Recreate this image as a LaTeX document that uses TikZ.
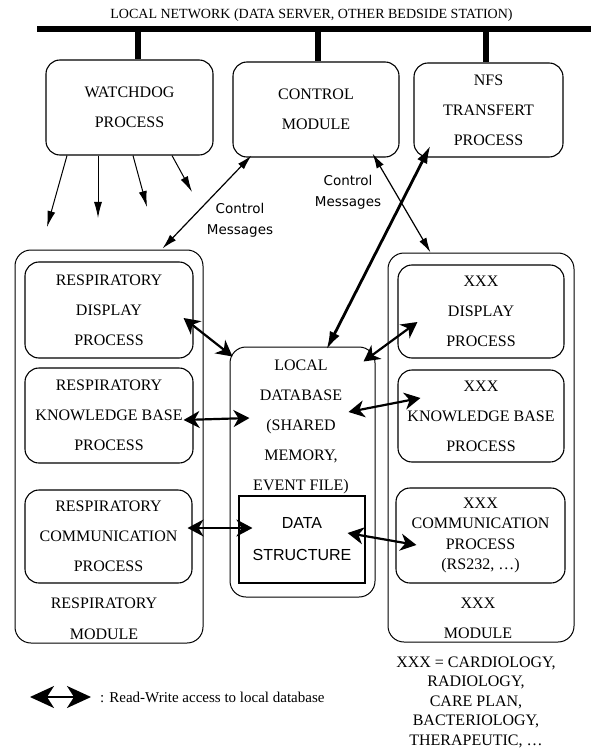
\documentclass[tikz,border=0pt]{standalone}
\usepackage{fontspec}
\setmainfont{Liberation Serif}
\newfontfamily\msgfont{DejaVu Sans}
\newfontfamily\structfont{Liberation Sans}
\usetikzlibrary{arrows.meta}

\begin{document}
\begin{tikzpicture}[
  x=1pt, y=-1pt,
  proc/.style={draw, rounded corners=14pt, line width=1.1pt, align=center, inner sep=0pt, font=\fontsize{16}{30}\selectfont},
  module/.style={draw, rounded corners=16pt, line width=1pt, inner sep=0pt},
  label/.style={align=center, inner sep=0pt, font=\fontsize{16}{31}\selectfont},
  msg/.style={align=center, inner sep=0pt, font=\msgfont\fontsize{13.5}{21}\selectfont},
  bus/.style={line width=5.5pt},
  wd/.style={-{Latex[length=16pt,width=8pt]}, line width=1pt},
  ctrlmsg/.style={{Latex[length=15pt,width=8pt]}-{Latex[length=15pt,width=8pt]}, line width=1.2pt},
  nfsflow/.style={{Latex[length=18pt,width=11pt]}-{Latex[length=18pt,width=11pt]}, line width=2.8pt},
  rw/.style={{Stealth[length=16pt,width=17pt,inset=5pt]}-{Stealth[length=16pt,width=17pt,inset=5pt]}, line width=2.2pt},
  rwkey/.style={{Stealth[length=24pt,width=22pt,inset=7pt]}-{Stealth[length=24pt,width=22pt,inset=7pt]}, line width=2.4pt}
]
\useasboundingbox (0,0) rectangle (591,751);

% Network bus
\node[inner sep=0pt, font=\fontsize{14}{16}\selectfont] (net) at (311.5,15) {LOCAL NETWORK (DATA SERVER, OTHER BEDSIDE STATION)};
\coordinate (busL) at (37,29);
\coordinate (busR) at (591,29);
\draw[bus] (busL) -- (busR);

% Top processes
\node[proc, minimum width=167pt, minimum height=95pt] (wdog) at (129.5,107.5) {WATCHDOG\\PROCESS};
\node[proc, minimum width=166pt, minimum height=95pt] (ctrl) at (316,109.5) {CONTROL\\MODULE};
\node[proc, minimum width=149pt, minimum height=94pt] (nfs) at (488.5,110) {NFS\\TRANSFERT\\PROCESS};

\coordinate (tapW) at (138,29);
\coordinate (tapC) at (318,29);
\coordinate (tapN) at (486,29);
\draw[bus] (tapW) -- (tapW |- wdog.north);
\draw[bus] (tapC) -- (tapC |- ctrl.north);
\draw[bus] (tapN) -- (tapN |- nfs.north);

% Respiratory module
\node[module, minimum width=188pt, minimum height=393pt] (resp) at (109,446.5) {};
\node[proc, minimum width=168pt, minimum height=96pt] (rdisp) at (109,310) {RESPIRATORY\\DISPLAY\\PROCESS};
\node[proc, minimum width=168pt, minimum height=95pt] (rkb) at (109,415.5) {RESPIRATORY\\KNOWLEDGE BASE\\PROCESS};
\node[proc, minimum width=167pt, minimum height=93pt] (rcomm) at (108.5,536.5) {RESPIRATORY\\COMMUNICATION\\PROCESS};
\node[label] (resplbl) at (104,619) {RESPIRATORY\\MODULE};

% Local database
\node[module, minimum width=145pt, minimum height=250pt] (db) at (302.5,472) {};
\node[label, font=\fontsize{16}{30}\selectfont] (dbtxt) at (301,427) {LOCAL\\DATABASE\\(SHARED\\MEMORY,\\EVENT FILE)};
\node[draw, line width=1.1pt, minimum width=126pt, minimum height=87pt, align=center, inner sep=0pt, font=\structfont\fontsize{16}{32}\selectfont] (ds) at (302,539.5) {DATA\\STRUCTURE};

% XXX module
\node[module, minimum width=186pt, minimum height=389pt] (xxx) at (481,447.5) {};
\node[proc, minimum width=166pt, minimum height=93pt] (xdisp) at (481,311.5) {XXX\\DISPLAY\\PROCESS};
\node[proc, minimum width=166pt, minimum height=92pt] (xkb) at (481,416) {XXX\\KNOWLEDGE BASE\\PROCESS};
\node[proc, minimum width=169pt, minimum height=95pt, font=\fontsize{16}{20.5}\selectfont] (xcomm) at (480.5,535.5) {XXX\\COMMUNICATION\\PROCESS\\(RS232, \ldots)};
\node[label, font=\fontsize{16}{30}\selectfont] (xxxlbl) at (478,618) {XXX\\MODULE};

% Watchdog outputs
\coordinate (wd1) at (47,227);
\coordinate (wd2) at (98,218);
\coordinate (wd3) at (147,207);
\coordinate (wd4) at (192,192);
\draw[wd] ([xshift=-62.5pt]wdog.south) -- (wd1);
\draw[wd] ([xshift=-31.5pt]wdog.south) -- (wd2);
\draw[wd] ([xshift=3.5pt]wdog.south) -- (wd3);
\draw[wd] ([xshift=42.5pt]wdog.south) -- (wd4);

% Control messages
\draw[ctrlmsg] ([xshift=19pt,yshift=2pt]ctrl.south west) -- ([xshift=148pt,yshift=1pt]resp.north west);
\draw[ctrlmsg] ([xshift=-27pt,yshift=4pt]ctrl.south east) -- ([xshift=43pt]xxx.north west);
\node[msg] (msgL) at (240,220) {Control\\Messages};
\node[msg] (msgR) at (348,192.5) {Control\\Messages};

% NFS transfer
\draw[nfsflow] ([xshift=17pt,yshift=12pt]nfs.south west) -- ([xshift=97pt,yshift=-3pt]db.north west);

% Read-write access
\draw[rw] ([xshift=-10pt,yshift=-8pt]rdisp.east) -- ([xshift=3pt,yshift=-10pt]db.north west);
\draw[rw] ([xshift=-10pt,yshift=-4.5pt]rkb.east) -- ([xshift=20pt,yshift=54pt]db.west);
\draw[rw] ([xshift=-5pt,yshift=8.5pt]rcomm.east) -- ([xshift=14pt,yshift=11.5pt]ds.west);
\draw[rw] ([xshift=20pt,yshift=-10.5pt]xdisp.west) -- ([xshift=-12pt,yshift=-15pt]db.north east);
\draw[rw] ([xshift=23pt,yshift=18pt]xkb.west) -- ([xshift=-27pt,yshift=60pt]db.east);
\draw[rw] ([xshift=-18pt,yshift=6.5pt]ds.east) -- ([xshift=21pt,yshift=-9.5pt]xcomm.west);

% Legend
\coordinate (keyA) at (30,697);
\coordinate (keyB) at (91,697);
\draw[rwkey] (keyA) -- (keyB);
\node[anchor=west, inner sep=0pt, font=\fontsize{15}{18}\selectfont] (keytxt) at (100,697) {: Read-Write access to local database};
\node[label, font=\fontsize{16}{19.5}\selectfont] (xlist) at (476,702) {XXX = CARDIOLOGY,\\RADIOLOGY,\\CARE PLAN,\\BACTERIOLOGY,\\THERAPEUTIC, \ldots};

\end{tikzpicture}
\end{document}
